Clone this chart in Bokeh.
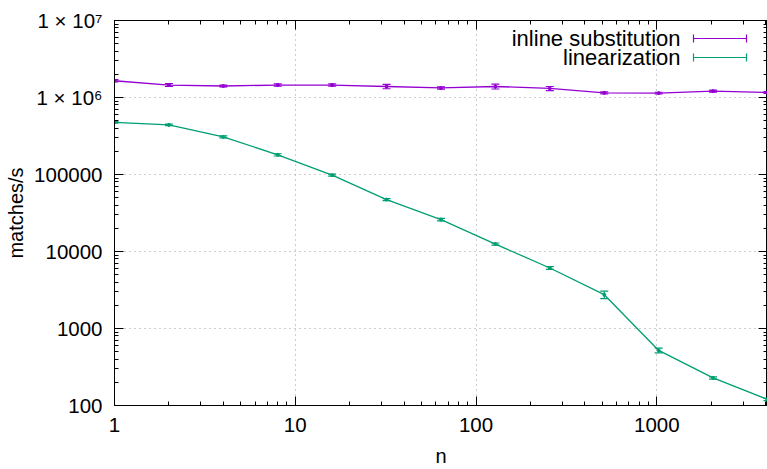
from bokeh.plotting import figure
from bokeh.models import (Range1d, FixedTicker, LogAxis, Whisker, TeeHead,
                          ColumnDataSource, Label, Arrow)
from bokeh.embed import file_html
from bokeh.resources import INLINE

# ---------------- data ----------------
n = [1, 2, 4, 8, 16, 32, 64, 128, 256, 512, 1024, 2048, 4096]

inline_vals = [1.65e6, 1.45e6, 1.41e6, 1.45e6, 1.45e6, 1.39e6, 1.33e6,
               1.39e6, 1.31e6, 1.15e6, 1.14e6, 1.21e6, 1.16e6]
inline_err = [58e3, 60e3, 40e3, 50e3, 50e3, 90e3, 45e3,
              100e3, 80e3, 35e3, 30e3, 35e3, 30e3]

lin_vals = [476e3, 441e3, 308e3, 180e3, 98e3, 47.2e3, 26e3,
            12.5e3, 6.1e3, 2.75e3, 519, 228, 120]
lin_err = [12e3, 10e3, 9e3, 6e3, 3e3, 1.5e3, 1e3,
           400, 250, 300, 36, 8, 4]

series_names = ["inline substitution", "linearization"]
series_colors = ["#9400d3", "#009e73"]

x_ticks = [1, 10, 100, 1000]
x_labels = ["1", "10", "100", "1000"]
y_ticks = [100, 1000, 10000, 100000, 1000000, 10000000]
y_labels = ["100", "1000", "10000", "100000", "1 × 10⁶", "1 × 10⁷"]

FONT = "Liberation Sans"

# ---------------- figure ----------------
p = figure(width=767, height=469, x_axis_type="log", y_axis_type="log",
           x_range=Range1d(1, 4096), y_range=Range1d(100, 1e7),
           output_backend="svg", toolbar_location=None,
           min_border_left=114, min_border_right=0, min_border_top=20,
           min_border_bottom=63)
p.background_fill_color = "white"
p.border_fill_color = "white"
p.outline_line_color = "black"
p.outline_line_width = 1

x_minor = [m * 10 ** k for k in range(0, 4) for m in range(2, 10) if m * 10 ** k < 4096]
y_minor = [m * 10 ** k for k in range(2, 7) for m in range(2, 10)]

xt = FixedTicker(ticks=x_ticks, minor_ticks=x_minor)
yt = FixedTicker(ticks=y_ticks, minor_ticks=y_minor)

for ax in p.xaxis:
    ax.ticker = xt
    ax.major_label_overrides = {t: l for t, l in zip(x_ticks, x_labels)}
    ax.axis_label = "n"
    ax.major_label_standoff = 12
    ax.axis_label_standoff = 10
for ax in p.yaxis:
    ax.ticker = yt
    ax.major_label_overrides = {t: l for t, l in zip(y_ticks, y_labels)}
    ax.axis_label = "matches/s"
    ax.major_label_standoff = 12
    ax.axis_label_standoff = 4

for ax in list(p.xaxis) + list(p.yaxis):
    ax.major_tick_in = 9
    ax.major_tick_out = 0
    ax.minor_tick_in = 4
    ax.minor_tick_out = 0
    ax.axis_line_color = "black"
    ax.major_tick_line_color = "black"
    ax.minor_tick_line_color = "black"
    ax.major_label_text_font = FONT
    ax.major_label_text_font_size = "20.5px"
    ax.major_label_text_color = "black"
    ax.axis_label_text_font = FONT
    ax.axis_label_text_font_size = "20px"
    ax.axis_label_text_font_style = "normal"
    ax.axis_label_text_color = "black"

# mirror axes (ticks only, no labels)
top = LogAxis(ticker=xt, major_tick_in=9, major_tick_out=0, minor_tick_in=4,
              minor_tick_out=0, major_label_text_font_size="1px",
              major_label_text_color=None,
              major_label_overrides={t: "" for t in x_ticks},
              major_label_standoff=0, axis_line_color="black")
right = LogAxis(ticker=yt, major_tick_in=9, major_tick_out=0, minor_tick_in=4,
                minor_tick_out=0, major_label_text_font_size="1px",
                major_label_text_color=None,
                major_label_overrides={t: "" for t in y_ticks},
                major_label_standoff=0, axis_line_color="black")
p.add_layout(top, "above")
p.add_layout(right, "right")

p.xgrid.ticker = xt
p.ygrid.ticker = yt
p.grid.grid_line_color = "#9a9a9a"
p.grid.grid_line_dash = "1 4"
p.grid.grid_line_width = 1

# ---------------- series ----------------
for vals, errs, name, color in [(inline_vals, inline_err, series_names[0], series_colors[0]),
                                (lin_vals, lin_err, series_names[1], series_colors[1])]:
    src = ColumnDataSource(dict(
        n=n, v=vals,
        lower=[v - e for v, e in zip(vals, errs)],
        upper=[v + e for v, e in zip(vals, errs)],
    ))
    p.line("n", "v", source=src, line_color=color, line_width=1.3)
    p.scatter("n", "v", source=src, size=3, color=color)
    w = Whisker(base="n", lower="lower", upper="upper", source=src,
                dimension="height", line_color=color, line_width=1.2,
                upper_head=TeeHead(size=8, line_color=color, line_width=1.2),
                lower_head=TeeHead(size=8, line_color=color, line_width=1.2))
    p.add_layout(w)

# ---------------- legend (gnuplot style: text then sample) ----------------
leg_rows = [367, 348]
for name, color, ly in zip(series_names, series_colors, leg_rows):
    p.add_layout(Label(x=566, y=ly, x_units="screen", y_units="screen",
                       text=name, text_align="right", text_baseline="middle",
                       text_font=FONT, text_font_size="22px", text_color="black"))
    p.add_layout(Arrow(x_start=579, y_start=ly, x_end=632, y_end=ly,
                       start_units="screen", end_units="screen",
                       line_color=color, line_width=1.2,
                       start=TeeHead(size=8, line_color=color, line_width=1.2),
                       end=TeeHead(size=8, line_color=color, line_width=1.2)))

open("out.html", "w").write(file_html(p, INLINE))
